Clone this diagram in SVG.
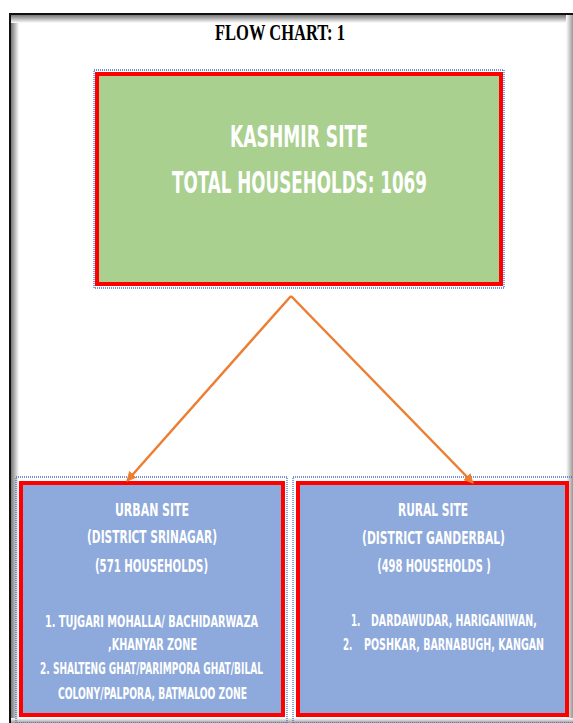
<svg xmlns="http://www.w3.org/2000/svg" width="573" height="723" viewBox="0 0 573 723">
<defs>
<style>
.box{stroke:#FF0000;stroke-width:4}
.dot{fill:none;stroke:#4472C4;stroke-width:1.3;stroke-dasharray:1 1}
.t{font-family:"Liberation Sans Narrow","DejaVu Sans Condensed","Liberation Sans",sans-serif;font-weight:bold;fill:#FFFFFF;text-anchor:middle}
.ts{font-family:"Liberation Sans Narrow","DejaVu Sans Condensed","Liberation Sans",sans-serif;font-weight:bold;fill:#FFFFFF}
.title{font-family:"Liberation Serif","DejaVu Serif",serif;font-weight:bold;fill:#000;text-anchor:middle}
.arr{stroke:#ED7D31;stroke-width:2.5;fill:none}
</style>
<linearGradient id="gl" x1="0" y1="0" x2="1" y2="0"><stop offset="0" stop-color="#777"/><stop offset="1" stop-color="#fff"/></linearGradient>
<linearGradient id="gt" x1="0" y1="0" x2="0" y2="1"><stop offset="0" stop-color="#777"/><stop offset="1" stop-color="#fff"/></linearGradient>
<linearGradient id="gr" x1="0" y1="0" x2="1" y2="0"><stop offset="0" stop-color="#fff"/><stop offset="1" stop-color="#999"/></linearGradient>
<linearGradient id="gb" x1="0" y1="0" x2="0" y2="1"><stop offset="0" stop-color="#fff"/><stop offset="1" stop-color="#999"/></linearGradient>
<marker id="ah" viewBox="0 0 10 10" refX="9" refY="5" markerWidth="4" markerHeight="4" orient="auto" markerUnits="strokeWidth">
<path d="M0,0 L10,5 L0,10 z" fill="#ED7D31"/>
</marker>
</defs>
<rect width="573" height="723" fill="#FFFFFF"/>
<g id="page">
<rect x="11" y="15" width="8" height="708" fill="url(#gl)"/>
<rect x="11" y="15" width="562" height="8" fill="url(#gt)"/>
<rect x="566" y="15" width="7" height="708" fill="url(#gr)"/>
<rect x="11" y="718" width="562" height="5" fill="url(#gb)"/>
<path d="M10,723 V14 H573" fill="none" stroke="#111" stroke-width="2"/>
</g>
<text class="title" transform="translate(280,40) scale(0.65,1)" font-size="24" textLength="200" lengthAdjust="spacingAndGlyphs">FLOW CHART: 1</text>
<g id="kashmir">
<rect class="dot" x="94" y="70" width="410" height="218"/>
<rect class="box" x="97" y="74" width="404" height="210" fill="#A9D08E"/>
<text class="t" transform="translate(299,147) scale(0.65,1)" font-size="30" textLength="212" lengthAdjust="spacingAndGlyphs">KASHMIR SITE</text>
<text class="t" transform="translate(299.5,193) scale(0.65,1)" font-size="30" textLength="392" lengthAdjust="spacingAndGlyphs">TOTAL HOUSEHOLDS: 1069</text>
</g>
<g id="urban">
<rect class="dot" x="16" y="477" width="271" height="246"/>
<rect class="box" x="21" y="483" width="262" height="232" fill="#8EA9DB"/>
<text class="t" transform="translate(152,516) scale(0.65,1)" font-size="18" textLength="114" lengthAdjust="spacingAndGlyphs">URBAN  SITE</text>
<text class="t" transform="translate(152,543) scale(0.65,1)" font-size="18" textLength="200" lengthAdjust="spacingAndGlyphs">(DISTRICT SRINAGAR)</text>
<text class="t" transform="translate(151.5,572) scale(0.65,1)" font-size="18" textLength="174" lengthAdjust="spacingAndGlyphs">(571 HOUSEHOLDS)</text>
<text class="t" transform="translate(151.5,627) scale(0.65,1)" font-size="15" textLength="328" lengthAdjust="spacingAndGlyphs">1. TUJGARI MOHALLA/ BACHIDARWAZA</text>
<text class="t" transform="translate(152.5,650) scale(0.65,1)" font-size="15" textLength="137" lengthAdjust="spacingAndGlyphs">,KHANYAR ZONE</text>
<text class="t" transform="translate(151.5,674) scale(0.65,1)" font-size="15" textLength="343" lengthAdjust="spacingAndGlyphs">2. SHALTENG GHAT/PARIMPORA GHAT/BILAL</text>
<text class="t" transform="translate(152.5,699) scale(0.65,1)" font-size="15" textLength="291" lengthAdjust="spacingAndGlyphs">COLONY/PALPORA, BATMALOO ZONE</text>
</g>
<g id="rural">
<rect class="dot" x="293" y="477" width="282" height="246"/>
<rect class="box" x="298" y="483" width="269" height="232" fill="#8EA9DB"/>
<text class="t" transform="translate(433,516) scale(0.65,1)" font-size="18" textLength="108" lengthAdjust="spacingAndGlyphs">RURAL SITE</text>
<text class="t" transform="translate(433.5,544) scale(0.65,1)" font-size="18" textLength="220" lengthAdjust="spacingAndGlyphs">(DISTRICT GANDERBAL)</text>
<text class="t" transform="translate(434,572) scale(0.65,1)" font-size="18" textLength="175" lengthAdjust="spacingAndGlyphs">(498 HOUSEHOLDS )</text>
<text class="ts" transform="translate(351,626) scale(0.65,1)" font-size="15">1.</text>
<text class="ts" transform="translate(371,626) scale(0.65,1)" font-size="15" textLength="255" lengthAdjust="spacingAndGlyphs">DARDAWUDAR, HARIGANIWAN,</text>
<text class="ts" transform="translate(343,650) scale(0.65,1)" font-size="15">2.</text>
<text class="ts" transform="translate(364,650) scale(0.65,1)" font-size="15" textLength="277" lengthAdjust="spacingAndGlyphs">POSHKAR, BARNABUGH, KANGAN</text>
</g>
<g id="connectors">
<line class="arr" x1="291" y1="296" x2="127" y2="481" marker-end="url(#ah)"/>
<line class="arr" x1="291" y1="296" x2="473" y2="483" marker-end="url(#ah)"/>
</g>
</svg>
